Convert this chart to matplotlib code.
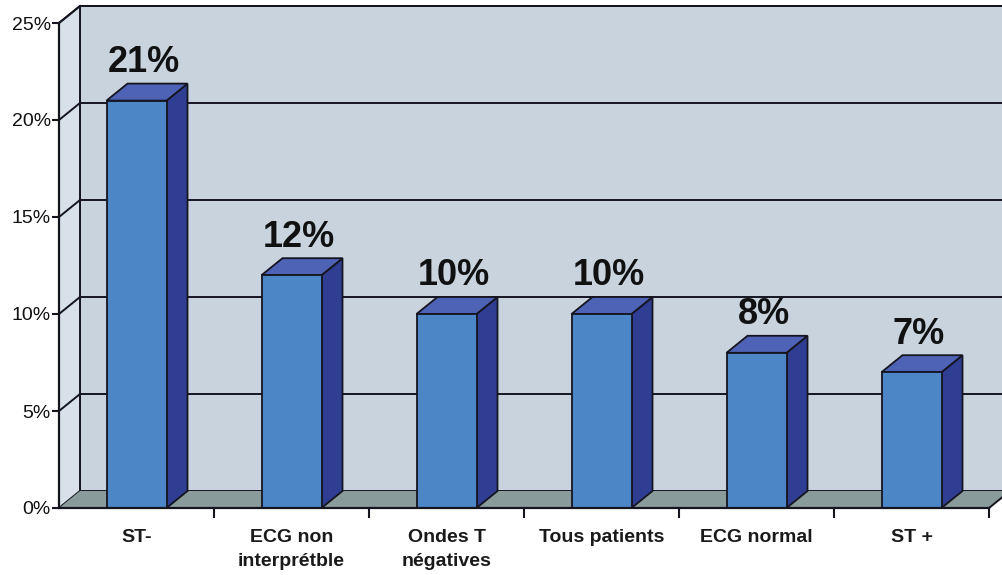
import matplotlib
matplotlib.use("Agg")
import matplotlib.pyplot as plt
from matplotlib.patches import Polygon

categories = ["ST-", "ECG non\ninterprétble", "Ondes T\nnégatives", "Tous patients", "ECG normal", "ST +"]
values = [21, 12, 10, 10, 8, 7]
value_labels = ["21%", "12%", "10%", "10%", "8%", "7%"]
yticks = [0, 5, 10, 15, 20, 25]
ytick_labels = ["0%", "5%", "10%", "15%", "20%", "25%"]

plt.rcParams['font.family'] = ['Liberation Sans', 'DejaVu Sans']

W, H = 1002, 575
fig = plt.figure(figsize=(W / 100, H / 100), dpi=100)
fig.patch.set_facecolor("white")
ax = fig.add_axes([59 / W, (H - 508) / H, 930 / W, 485 / H])
n = len(categories)
ax.set_xlim(0, n)
ax.set_ylim(0, 25)
ax.set_facecolor("none")

dx = 21 / 155.0   # depth offset in category units
dy = 17 / 19.4    # depth offset in percent units
edge = "#151520"

# back wall
back = Polygon([(dx, dy), (n + dx + 0.2, dy), (n + dx + 0.2, 25 + dy), (dx, 25 + dy)],
               closed=True, facecolor="#c8d3de", edgecolor=edge, lw=1.4, clip_on=False, zorder=1)
ax.add_patch(back)
# left side wall
side = Polygon([(0, 0), (dx, dy), (dx, 25 + dy), (0, 25)],
               closed=True, facecolor="#d8e0e9", edgecolor=edge, lw=1.4, clip_on=False, zorder=1)
ax.add_patch(side)
# floor
floor = Polygon([(0, 0), (n, 0), (n + dx, dy), (dx, dy)],
                closed=True, facecolor="#899b9b", edgecolor="none", clip_on=False, zorder=2)
ax.add_patch(floor)
ax.plot([n, n + dx + 0.2], [0, dy * (1 + 0.2 / dx)], color=edge, lw=1.4, clip_on=False, zorder=2)

# gridlines on back and side walls
for yv in yticks[1:]:
    ax.plot([0, dx], [yv, yv + dy], color=edge, lw=1.4, clip_on=False, zorder=2)
    ax.plot([dx, n + dx + 0.2], [yv + dy, yv + dy], color=edge, lw=1.4, clip_on=False, zorder=2)

# bars
bw = 60 / 155.0
centers = [i + 0.5 for i in range(n)]
ax.bar(centers, values, width=bw, color="#4c86c6", edgecolor=edge, linewidth=1.3, zorder=4)
for c, v, lab in zip(centers, values, value_labels):
    x0, x1 = c - bw / 2, c + bw / 2
    ax.add_patch(Polygon([(x1, 0), (x1 + dx, dy), (x1 + dx, v + dy), (x1, v)], closed=True,
                         facecolor="#2f3e92", edgecolor=edge, lw=1.3, zorder=3, clip_on=False))
    ax.add_patch(Polygon([(x0, v), (x1, v), (x1 + dx, v + dy), (x0 + dx, v + dy)], closed=True,
                         facecolor="#4f63b6", edgecolor=edge, lw=1.3, zorder=3, clip_on=False))
    ax.text(c + dx / 2 - 0.02, v + dy + 0.6, lab, ha="center", va="baseline", fontsize=26,
            fontweight="bold", color="#111111", zorder=5)

# axes
for s in ["top", "right"]:
    ax.spines[s].set_visible(False)
for s in ["left", "bottom"]:
    ax.spines[s].set_color(edge)
    ax.spines[s].set_linewidth(1.6)
    ax.spines[s].set_zorder(6)

ax.set_yticks(yticks)
ax.set_yticklabels(ytick_labels, fontsize=14, color="#111111")
ax.tick_params(axis="y", direction="out", length=5, width=1.5, color=edge, pad=1)

ax.set_xticks(centers)
ax.set_xticklabels(categories, fontsize=14, fontweight="bold", color="#1a1a1a", va="top",
                   linespacing=1.55)
ax.set_xticks(list(range(1, n + 1)), minor=True)
ax.tick_params(axis="x", which="major", length=0, pad=15)
ax.tick_params(axis="x", which="minor", direction="out", length=7, width=1.5, color=edge)

fig.savefig("out.png", dpi=100, facecolor="white")
